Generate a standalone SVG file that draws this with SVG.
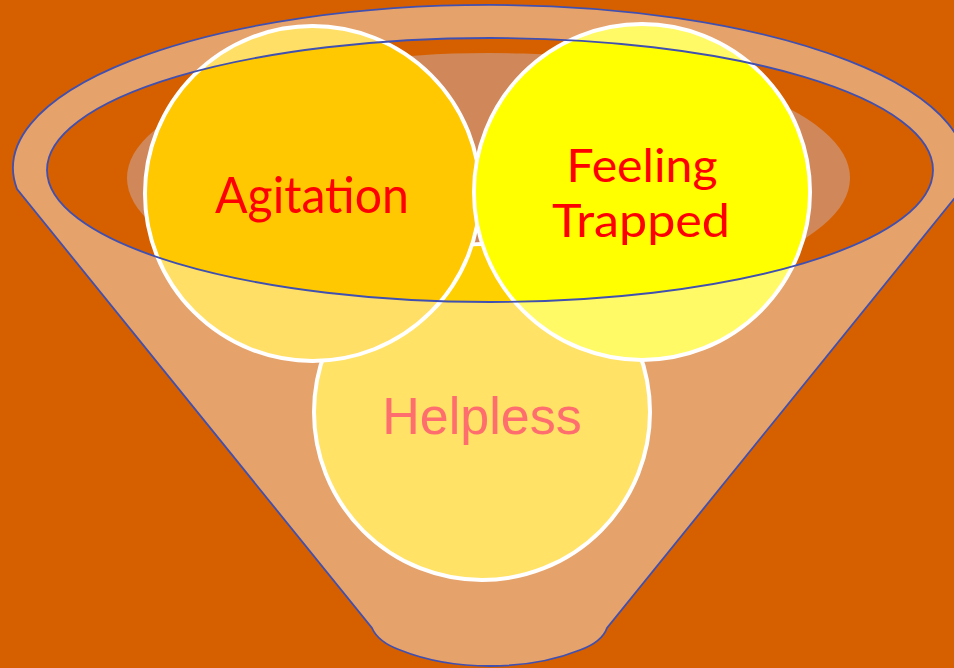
<svg xmlns="http://www.w3.org/2000/svg" width="954" height="668" viewBox="0 0 954 668">
<defs>
<style>
.blue{stroke:#4050B0;stroke-width:1.8;}
.ring{stroke:#FFFFFF;stroke-width:4;}
.lbl{font-family:Lato,"Open Sans","Liberation Sans",sans-serif;fill:#FF0000;text-anchor:middle;}
.lbl2{font-family:"Liberation Sans",Arial,sans-serif;fill:#FF6E6E;text-anchor:middle;}
</style>
<clipPath id="mouth"><ellipse cx="490" cy="170" rx="443" ry="132"/></clipPath>
</defs>
<rect x="0" y="0" width="954" height="668" fill="#D66000"/>
<g id="funnel">
<path class="blue" fill="#E6A26B" d="M17,189 A476.5,163 0 1 1 962,189 L607,628 Q602,642 580,650 Q540,666 490,666 Q440,666 400,650 Q378,642 372,628 Z"/>
<ellipse cx="490" cy="170" rx="443" ry="132" fill="#D66000"/>
<ellipse cx="488.5" cy="178" rx="361.5" ry="125" fill="#D0885A" clip-path="url(#mouth)"/>
</g>
<g id="helpless">
<circle class="ring" cx="482" cy="412" r="168" fill="#FFE266"/>
<circle cx="482" cy="412" r="166" fill="#FFD000" clip-path="url(#mouth)"/>
<text class="lbl2" x="482" y="434" font-size="52">Helpless</text>
</g>
<g id="agitation">
<circle class="ring" cx="312.5" cy="193.5" r="167.5" fill="#FFDF66"/>
<circle cx="312.5" cy="193.5" r="165.5" fill="#FFC800" clip-path="url(#mouth)"/>
</g>
<g id="trapped">
<circle class="ring" cx="642" cy="192" r="168" fill="#FFFA66"/>
<circle cx="642" cy="192" r="166" fill="#FFFF00" clip-path="url(#mouth)"/>
</g>
<g id="rim">
<ellipse class="blue" cx="490" cy="170" rx="443" ry="132" fill="none"/>
</g>
<g id="labels">
<text class="lbl" x="312" y="213" font-size="50" textLength="194" lengthAdjust="spacingAndGlyphs">Agitation</text>
<text class="lbl" x="642" y="182" font-size="47" textLength="151" lengthAdjust="spacingAndGlyphs">Feeling</text>
<text class="lbl" x="641" y="237" font-size="47" textLength="178" lengthAdjust="spacingAndGlyphs">Trapped</text>
</g>
</svg>
